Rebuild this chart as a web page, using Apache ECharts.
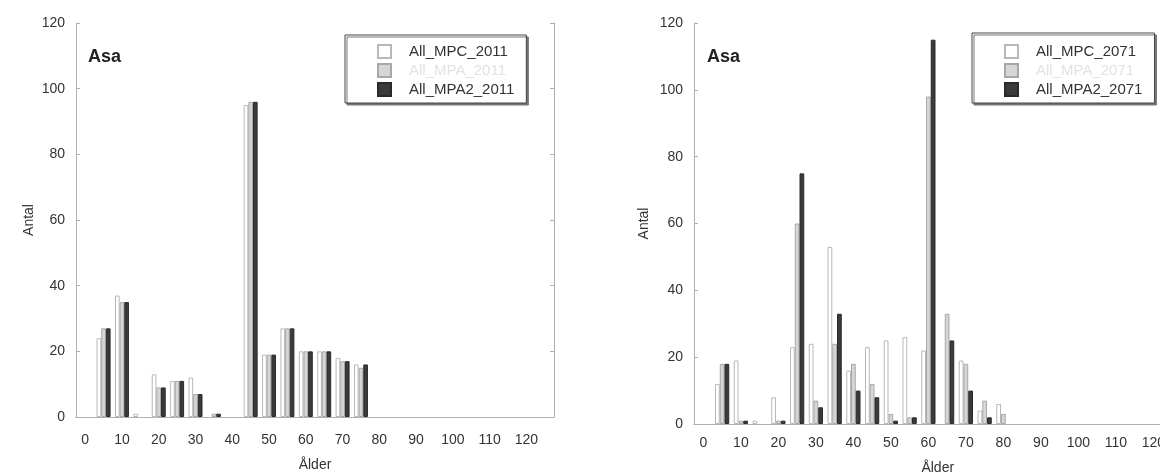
<!DOCTYPE html>
<html>
<head>
<meta charset="utf-8">
<script src="https://cdn.jsdelivr.net/npm/echarts@6/dist/echarts.min.js"></script>
<style>
  html, body { margin: 0; padding: 0; background: #fff; }
  #chart { width: 1160px; height: 472px; }
</style>
</head>
<body>
<div id="chart"></div>
<script>
// age bins, 5 years wide
var ages = ["0","5","10","15","20","25","30","35","40","45","50","55","60","65","70","75","80","85","90","95","100","105","110","115","120","125"];

// left panel (2011)
var mpc2011  = [0,24,37,1,13,11,12,0,0,95,19,27,20,20,18,16,0,0,0,0,0,0,0,0,0,0];
var mpa2011  = [0,27,35,0,9,11,7,1,0,96,19,27,20,20,17,15,0,0,0,0,0,0,0,0,0,0];
var mpa22011 = [0,27,35,0,9,11,7,1,0,96,19,27,20,20,17,16,0,0,0,0,0,0,0,0,0,0];

// right panel (2071)
var mpc2071  = [0,12,19,1,8,23,24,53,16,23,25,26,22,0,19,4,6,0,0,0,0,0,0,0,0,0];
var mpa2071  = [0,18,1,0,1,60,7,24,18,12,3,2,98,33,18,7,3,0,0,0,0,0,0,0,0,0];
var mpa22071 = [0,18,1,0,1,75,5,33,10,8,1,2,115,25,10,2,0,0,0,0,0,0,0,0,0,0];

var names2011 = ["All_MPC_2011", "All_MPA_2011", "All_MPA2_2011"];
var names2071 = ["All_MPC_2071", "All_MPA_2071", "All_MPA2_2071"];

var font = "Liberation Sans";
var frame = "#b0b0b0";

function bottomAxis(gi, gap, margin) {
    return {
        type: "category", gridIndex: gi, data: ages,
        name: "Ålder", nameLocation: "middle", nameGap: gap,
        nameTextStyle: {fontFamily: font, fontSize: 14, color: "#333"},
        axisLine: {lineStyle: {color: "#888"}},
        axisTick: {inside: true, alignWithLabel: true, interval: 1, length: 5, lineStyle: {color: frame}},
        axisLabel: {interval: 1, margin: margin, fontFamily: font, fontSize: 14, color: "#333"}
    };
}
function topAxis(gi) {
    return {
        type: "category", gridIndex: gi, data: ages, position: "top",
        axisLine: {lineStyle: {color: frame}},
        axisTick: {inside: true, alignWithLabel: true, interval: 0, length: 4, lineStyle: {color: frame}},
        axisLabel: {show: false}
    };
}
function leftAxis(gi, gap) {
    return {
        type: "value", gridIndex: gi, min: 0, max: 120, interval: 20,
        name: "Antal", nameLocation: "middle", nameGap: gap,
        nameTextStyle: {fontFamily: font, fontSize: 14, color: "#333"},
        splitLine: {show: false},
        axisLine: {show: true, lineStyle: {color: frame}},
        axisTick: {show: true, inside: true, length: 4, lineStyle: {color: frame}},
        axisLabel: {margin: 11, fontFamily: font, fontSize: 14, color: "#333"}
    };
}
function rightAxis(gi) {
    return {
        type: "value", gridIndex: gi, min: 0, max: 120, interval: 20, position: "right",
        splitLine: {show: false},
        axisLine: {show: true, lineStyle: {color: frame}},
        axisTick: {show: true, inside: true, length: 4, lineStyle: {color: frame}},
        axisLabel: {show: false}
    };
}

var styles = [
    {color: "#ffffff", borderColor: "#b8b8b8", borderWidth: 1},
    {color: "#d6d6d6", borderColor: "#a8a8a8", borderWidth: 1},
    {color: "#3a3a3a", borderColor: "#2a2a2a", borderWidth: 1}
];

// empty bins are left blank instead of a flat outline
function blanks(list) {
    return list.map(function (v) { return v === 0 ? null : v; });
}

function bars(names, lists, gi) {
    var out = [];
    for (var i = 0; i < 3; i++) {
        out.push({
            name: names[i], type: "bar", data: blanks(lists[i]),
            xAxisIndex: gi * 2, yAxisIndex: gi * 2,
            barGap: "0%", barCategoryGap: "24%",
            itemStyle: styles[i]
        });
    }
    return out;
}

function legendBox(names, left, top, padTop) {
    return {
        orient: "vertical", left: left, top: top,
        padding: [padTop, 12, 6, 32], itemGap: 4, itemWidth: 13, itemHeight: 13,
        icon: "rect", selectedMode: false,
        borderColor: "#444", borderWidth: 1, backgroundColor: "#fff",
        shadowColor: "#777", shadowOffsetX: 2, shadowOffsetY: 2, shadowBlur: 0,
        textStyle: {fontFamily: font, fontSize: 15, color: "#333", padding: [0, 0, 0, 13]},
        data: [
            {name: names[0]},
            {name: names[1], textStyle: {color: "#e2e2e2"}},
            {name: names[2]}
        ]
    };
}

var chart = echarts.init(document.getElementById("chart"));
chart.setOption({
    backgroundColor: "#fff",
    animation: false,
    title: [
        {text: "Asa", left: 83, top: 43, textStyle: {fontFamily: font, fontSize: 18, fontWeight: "bold", color: "#222"}},
        {text: "Asa", left: 702, top: 43, textStyle: {fontFamily: font, fontSize: 18, fontWeight: "bold", color: "#222"}}
    ],
    legend: [
        legendBox(names2011, 345, 35, 9),
        legendBox(names2071, 972, 33, 11)
    ],
    grid: [
        {left: 76, top: 23, width: 478, height: 394, outerBoundsMode: "none"},
        {left: 694, top: 23, width: 487.5, height: 401, outerBoundsMode: "none"}
    ],
    xAxis: [bottomAxis(0, 41, 16), topAxis(0), bottomAxis(1, 37, 12), topAxis(1)],
    yAxis: [leftAxis(0, 40), rightAxis(0), leftAxis(1, 43), rightAxis(1)],
    series: bars(names2011, [mpc2011, mpa2011, mpa22011], 0)
        .concat(bars(names2071, [mpc2071, mpa2071, mpa22071], 1))
});
</script>
</body>
</html>
